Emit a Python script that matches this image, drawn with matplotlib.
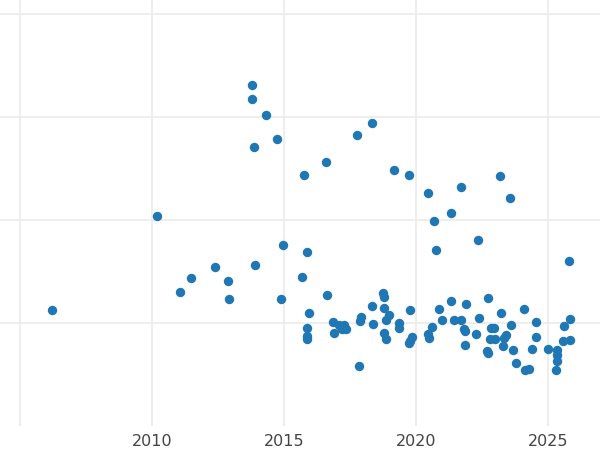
import matplotlib
matplotlib.use("Agg")
import matplotlib.pyplot as plt

years = [2006.21, 2010.19, 2011.06, 2011.48, 2012.39, 2012.88, 2012.92, 2013.79, 2013.79, 2014.32,
         2013.86, 2013.90, 2014.73, 2014.96, 2014.89, 2015.76, 2015.68, 2015.87, 2015.95, 2015.87,
         2015.87, 2015.87, 2016.59, 2016.63, 2016.86, 2016.89, 2017.10, 2017.18, 2017.29, 2017.36,
         2017.77, 2017.84, 2017.92, 2017.88, 2018.33, 2018.33, 2018.37, 2018.75, 2018.79, 2018.79,
         2018.79, 2018.86, 2018.86, 2018.98, 2019.17, 2019.36, 2019.36, 2019.73, 2019.77, 2019.77,
         2019.85, 2019.73, 2020.45, 2020.45, 2020.49, 2020.60, 2020.68, 2020.76, 2020.87, 2020.98,
         2021.33, 2021.33, 2021.44, 2021.70, 2021.70, 2021.89, 2021.86, 2021.82, 2021.86, 2022.27,
         2022.35, 2022.39, 2022.70, 2022.73, 2022.73, 2022.84, 2022.95, 2022.80, 2022.99, 2023.18,
         2023.22, 2023.33, 2023.29, 2023.40, 2023.56, 2023.60, 2023.67, 2023.79, 2024.09, 2024.13,
         2024.28, 2024.39, 2024.55, 2024.55, 2025.00, 2025.34, 2025.34, 2025.34, 2025.30, 2025.60,
         2025.57, 2025.80, 2025.83, 2025.83]
values = [112.6, 203.9, 130.1, 143.7, 154.4, 140.8, 123.3, 331.1, 317.5, 302.0,
          270.9, 156.3, 278.7, 175.7, 123.3, 243.7, 144.7, 168.9, 109.7, 95.1,
          87.4, 84.5, 256.3, 127.2, 101.0, 90.3, 98.0, 94.0, 98.5, 94.5,
          282.5, 58.2, 105.8, 102.0, 294.2, 116.5, 99.0, 129.0, 125.0, 114.6,
          90.3, 84.5, 103.0, 107.8, 248.6, 100.0, 95.0, 243.7, 112.6, 83.0,
          86.0, 81.0, 226.2, 89.3, 85.4, 96.0, 199.0, 171.0, 113.6, 103.0,
          206.8, 121.4, 103.0, 232.0, 103.0, 118.4, 92.0, 94.0, 78.6, 89.3,
          180.6, 104.9, 72.8, 70.9, 124.3, 95.0, 95.0, 84.5, 84.5, 242.7,
          109.7, 85.0, 77.7, 88.0, 221.4, 98.0, 73.8, 61.2, 113.6, 54.4,
          55.3, 74.8, 101.0, 86.4, 74.8, 73.8, 69.0, 63.0, 54.4, 97.1,
          82.5, 160.0, 103.9, 83.5]

xticks = [2010, 2015, 2020, 2025]

fig = plt.figure(figsize=(6, 4.5), dpi=100)
ax = fig.add_axes([0, 24/450, 1, 426/450])
ax.scatter(years, values, s=46, color="#1f77b4", zorder=3, linewidths=0)
ax.set_xlim(2004.24, 2026.97)
ax.set_ylim(0, 413.6)
ax.set_xticks([2005] + xticks)
ax.set_xticklabels([""] + [str(t) for t in xticks])
ax.set_yticks([100, 200, 300, 400])
ax.set_yticklabels([])
ax.grid(True, color="#ebebeb", linewidth=1.2, zorder=0)
ax.tick_params(length=0, labelsize=11.5, colors="#444444", pad=6)
for s in ax.spines.values():
    s.set_visible(False)
fig.savefig("out.png", dpi=100)
